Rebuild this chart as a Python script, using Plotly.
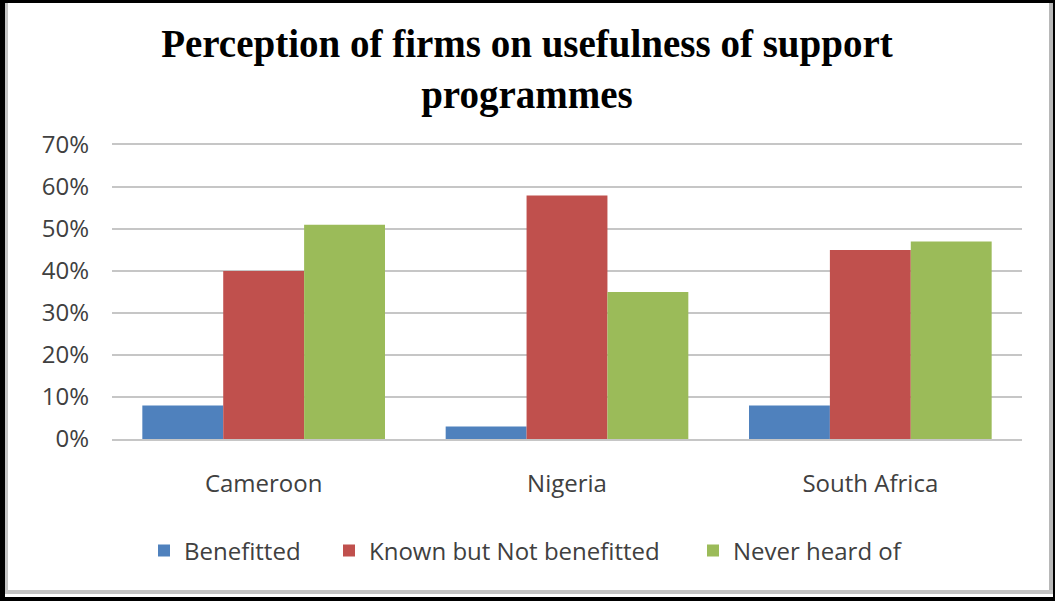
import plotly.graph_objects as go

# Survey shares by country
countries = ["Cameroon", "Nigeria", "South Africa"]
benefitted = [0.08, 0.03, 0.08]
known_not_benefitted = [0.40, 0.58, 0.45]
never_heard = [0.51, 0.35, 0.47]

series_names = ["Benefitted", "Known but Not benefitted", "Never heard of"]
series_colors = ["#4f81bd", "#c0504d", "#9bbb59"]
y_ticks = [0, 0.1, 0.2, 0.3, 0.4, 0.5, 0.6, 0.7]

W, H = 1056, 603
L, R, T, B = 112, 34, 145, 164
PW, PH = W - L - R, H - T - B

def px_x(px):
    return (px - L) / PW

def px_y(py):
    return (H - B - py) / PH

fig = go.Figure()
legend_ids = ["legend", "legend2", "legend3"]
for name, vals, col, lg in zip(series_names,
                               [benefitted, known_not_benefitted, never_heard],
                               series_colors, legend_ids):
    fig.add_trace(go.Bar(x=countries, y=vals, name=name, marker_color=col,
                         marker_line_width=0, legend=lg, showlegend=True))

font_main = "Open Sans, Lato, sans-serif"
text_col = "#404040"

# Frame: black outer border with a thin grey inner edge
def rect(x0, y0, x1, y1, color):
    return dict(type="rect", xref="paper", yref="paper",
                x0=px_x(x0), x1=px_x(x1), y0=px_y(y0), y1=px_y(y1),
                fillcolor=color, line_width=0, layer="above")

shapes = [
    rect(5, 3, 8, 594, "#c4c4c4"),
    rect(1049, 3, 1053, 594, "#b8b8b8"),
    rect(5, 590, 1053, 594, "#c4c4c4"),
    rect(0, 0, 5, 601, "#000000"),
    rect(0, 0, 1055, 3, "#000000"),
    rect(1053, 0, 1055, 601, "#000000"),
    rect(0, 597, 1055, 601, "#000000"),
]

leg_common = dict(orientation="h", yanchor="middle", y=px_y(551),
                  xanchor="left", font=dict(family=font_main, size=24, color=text_col),
                  bgcolor="rgba(0,0,0,0)", itemclick=False, itemdoubleclick=False)

fig.update_layout(
    width=W, height=H,
    margin=dict(l=L, r=R, t=T, b=B, autoexpand=False),
    paper_bgcolor="white", plot_bgcolor="white",
    showlegend=True,
    barmode="group", bargap=0.2, bargroupgap=0,
    title=dict(text="Perception of firms on usefulness of support<br>programmes",
               font=dict(family="Liberation Serif, Times New Roman, serif", size=39,
                         color="#000000", weight="bold"),
               x=0.499, xref="container", xanchor="center",
               y=1 - 57 / H, yref="container", yanchor="top"),
    xaxis=dict(showgrid=False, showline=True, linecolor="#c6c6c6", linewidth=1.5,
               mirror=True, ticks="", ticklabelstandoff=22,
               tickfont=dict(family=font_main, size=24, color=text_col)),
    yaxis=dict(range=[0, 0.7], tickvals=y_ticks, tickformat=".0%",
               showgrid=True, gridcolor="#c6c6c6", gridwidth=1.5,
               zeroline=False, showline=False, ticks="", ticklabelstandoff=22,
               tickfont=dict(family=font_main, size=24, color=text_col)),
    legend=dict(leg_common, x=px_x(185 - 41)),
    legend2=dict(leg_common, x=px_x(370 - 41)),
    legend3=dict(leg_common, x=px_x(734 - 41)),
    shapes=shapes,
)

fig.write_html("out.html")
